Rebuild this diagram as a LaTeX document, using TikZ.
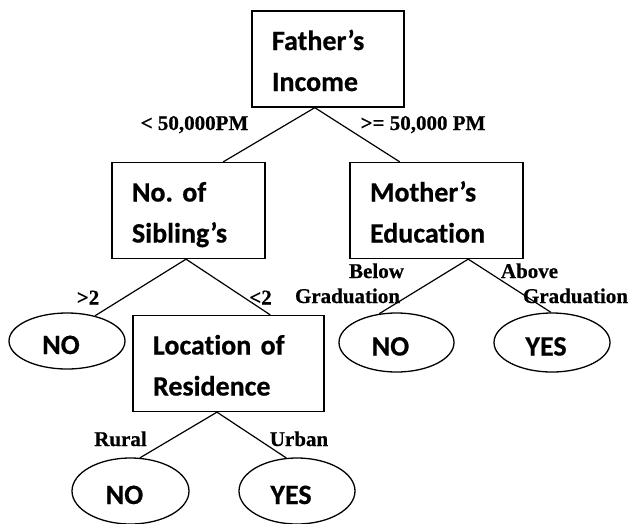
\documentclass[tikz,border=0pt]{standalone}
\usepackage{fontspec}
\setmainfont{Liberation Serif}[BoldFeatures={FakeBold=0.6}]
\newfontfamily\boxfont{Carlito}[Ligatures=CommonOff, BoldFeatures={FakeBold=0.6}]
\usetikzlibrary{shapes.geometric,calc}
\newcommand\bstrut{\rule[-6pt]{0pt}{35pt}}
\tikzset{
  decbox/.style={draw, line width=1.3pt, rectangle, minimum height=96pt, inner xsep=20pt, inner ysep=0pt,
    align=left, font={\boxfont\bfseries\fontsize{28}{41}\selectfont}},
  leaf/.style={draw, line width=1.3pt, ellipse, inner sep=2pt, text height=26pt, text depth=0pt,
    font={\boxfont\bfseries\fontsize{28}{34}\selectfont}},
  conn/.style={line width=1.2pt},
  lab/.style={anchor=base, inner sep=0pt, font={\bfseries\fontsize{21}{25}\selectfont}}
}
\begin{document}
\begin{tikzpicture}[x=1pt,y=-1pt]
\useasboundingbox (0,0) rectangle (629,523);
% decision boxes
\node[decbox, text width=112pt] (fi) at (328,59) {\bstrut Father’s\\Income\bstrut};
\node[decbox, text width=113pt] (sib) at (188.5,210.5) {\bstrut No.\ of\\Sibling’s\bstrut};
\node[decbox, text width=133pt] (mom) at (436.5,210.5) {\bstrut Mother’s\\Education\bstrut};
\node[decbox, text width=151pt] (loc) at (228.5,363.5) {\bstrut Location of\\Residence\bstrut};
% leaves
\node[leaf, minimum width=116pt, minimum height=56pt] (no1) at (67,341) {\kern-12pt NO};
\node[leaf, minimum width=115pt, minimum height=59pt] (no2) at (396.5,342.5) {\kern-12pt NO};
\node[leaf, minimum width=116pt, minimum height=59pt] (yes2) at (552,342.5) {\kern-12pt YES};
\node[leaf, minimum width=117pt, minimum height=66pt] (no3) at (130.5,491) {\kern-12pt NO};
\node[leaf, minimum width=116pt, minimum height=66pt] (yes3) at (297,491) {\kern-12pt YES};
% connectors
\draw[conn] ($(fi.south west)!0.414!(fi.south east)$) -- ($(sib.north west)!0.725!(sib.north east)$);
\draw[conn] ($(fi.south west)!0.414!(fi.south east)$) -- ($(mom.north west)!0.289!(mom.north east)$);
\draw[conn] ($(sib.south west)!0.484!(sib.south east)$) -- (no1.42);
\draw[conn] ($(sib.south west)!0.484!(sib.south east)$) -- ($(loc.north west)!0.717!(loc.north east)$);
\draw[conn] ($(mom.south west)!0.682!(mom.south east)$) -- (no2.121);
\draw[conn] ($(mom.south west)!0.682!(mom.south east)$) -- (yes2.92);
\draw[conn] ($(loc.south west)!0.44!(loc.south east)$) -- (no3.74);
\draw[conn] ($(loc.south west)!0.44!(loc.south east)$) -- (yes3.108);
% labels
\node[lab] (l1) at (194.5,130) {< 50,000PM};
\node[lab] (l2) at (423,130) {>= 50,000 PM};
\node[lab] (l3) at (88,304.5) {>2};
\node[lab] (l4) at (260.5,304.5) {<2};
\node[lab] (l5) at (376.5,278) {Below};
\node[lab] (l6) at (347.5,303) {Graduation};
\node[lab] (l7) at (529.5,278) {Above};
\node[lab] (l8) at (575.5,303) {Graduation};
\node[lab] (l9) at (120.5,446) {Rural};
\node[lab] (l10) at (299,446) {Urban};
\end{tikzpicture}
\end{document}
